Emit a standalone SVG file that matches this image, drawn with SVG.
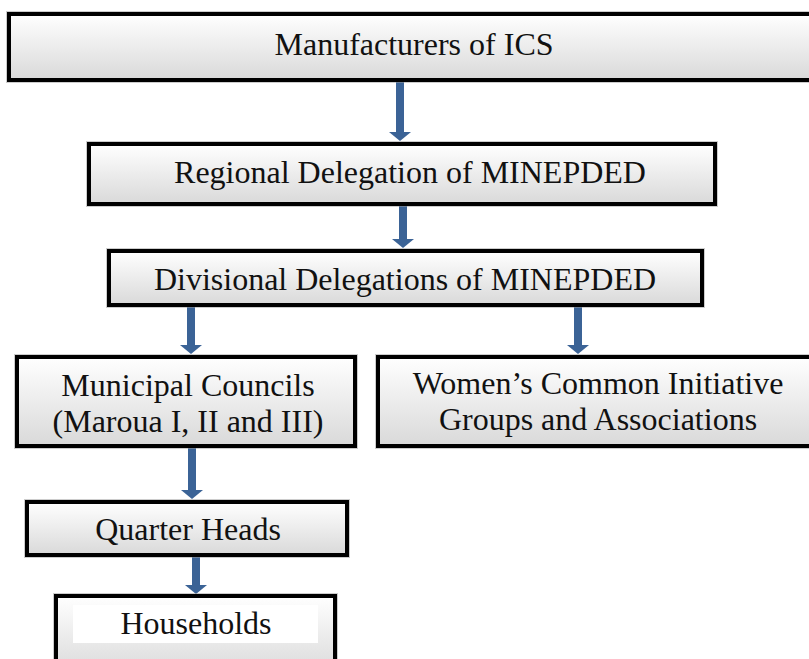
<svg xmlns="http://www.w3.org/2000/svg" width="809" height="659" viewBox="0 0 809 659">
<style>
.box{fill:url(#g);stroke:#000;stroke-width:4}
.sh{fill:none;stroke:#999;stroke-width:6;opacity:0.5}
.ar{stroke:#3b6396;stroke-width:8;fill:none;marker-end:url(#ah)}
</style>
<defs>
<linearGradient id="g" x1="0" y1="0" x2="0" y2="1">
<stop offset="0" stop-color="#ffffff"/>
<stop offset="1" stop-color="#d9d9d9"/>
</linearGradient>
<marker id="ah" markerWidth="10" markerHeight="22" refX="0" refY="11" orient="auto" markerUnits="userSpaceOnUse">
<path d="M0,0 L9,11 L0,22 Z" fill="#3b6396"/>
</marker>
</defs>
<rect width="809" height="659" fill="#fff"/>
<g id="connectors">
<line class="ar" x1="400" y1="82" x2="400" y2="132"/>
<line class="ar" x1="403" y1="206" x2="403" y2="239"/>
<line class="ar" x1="191" y1="307" x2="191" y2="345"/>
<line class="ar" x1="578" y1="307" x2="578" y2="345"/>
<line class="ar" x1="192" y1="448" x2="192" y2="490"/>
<line class="ar" x1="196" y1="557" x2="196" y2="585"/>
</g>
<g font-family="Liberation Serif, Tinos, Times New Roman, serif" font-size="32" fill="#111" text-anchor="middle">
<g id="n1">
<rect class="sh" x="9" y="14" width="830" height="66"/>
<rect class="box" x="9" y="14" width="830" height="66"/>
<text x="414" y="55">Manufacturers of ICS</text>
</g>
<g id="n2">
<rect class="sh" x="89" y="144" width="626" height="60"/>
<rect class="box" x="89" y="144" width="626" height="60"/>
<text x="410" y="183">Regional Delegation of MINEPDED</text>
</g>
<g id="n3">
<rect class="sh" x="109" y="251" width="593" height="54"/>
<rect class="box" x="109" y="251" width="593" height="54"/>
<text x="405" y="290">Divisional Delegations of MINEPDED</text>
</g>
<g id="n4">
<rect class="sh" x="17" y="357" width="338" height="89"/>
<rect class="box" x="17" y="357" width="338" height="89"/>
<text x="188" y="396">Municipal Councils</text>
<text x="188" y="432">(Maroua I, II and III)</text>
</g>
<g id="n5">
<rect class="sh" x="378" y="357" width="440" height="89"/>
<rect class="box" x="378" y="357" width="440" height="89"/>
<text x="598" y="394">Women’s Common Initiative</text>
<text x="598" y="430">Groups and Associations</text>
</g>
<g id="n6">
<rect class="sh" x="27" y="502" width="320" height="53"/>
<rect class="box" x="27" y="502" width="320" height="53"/>
<text x="188" y="540">Quarter Heads</text>
</g>
<g id="n7">
<rect class="sh" x="56" y="596" width="279" height="80"/>
<rect class="box" x="56" y="596" width="279" height="80"/>
<rect x="73" y="605" width="245" height="38" fill="#fff"/>
<text x="196" y="634">Households</text>
</g>
</g>
</svg>
